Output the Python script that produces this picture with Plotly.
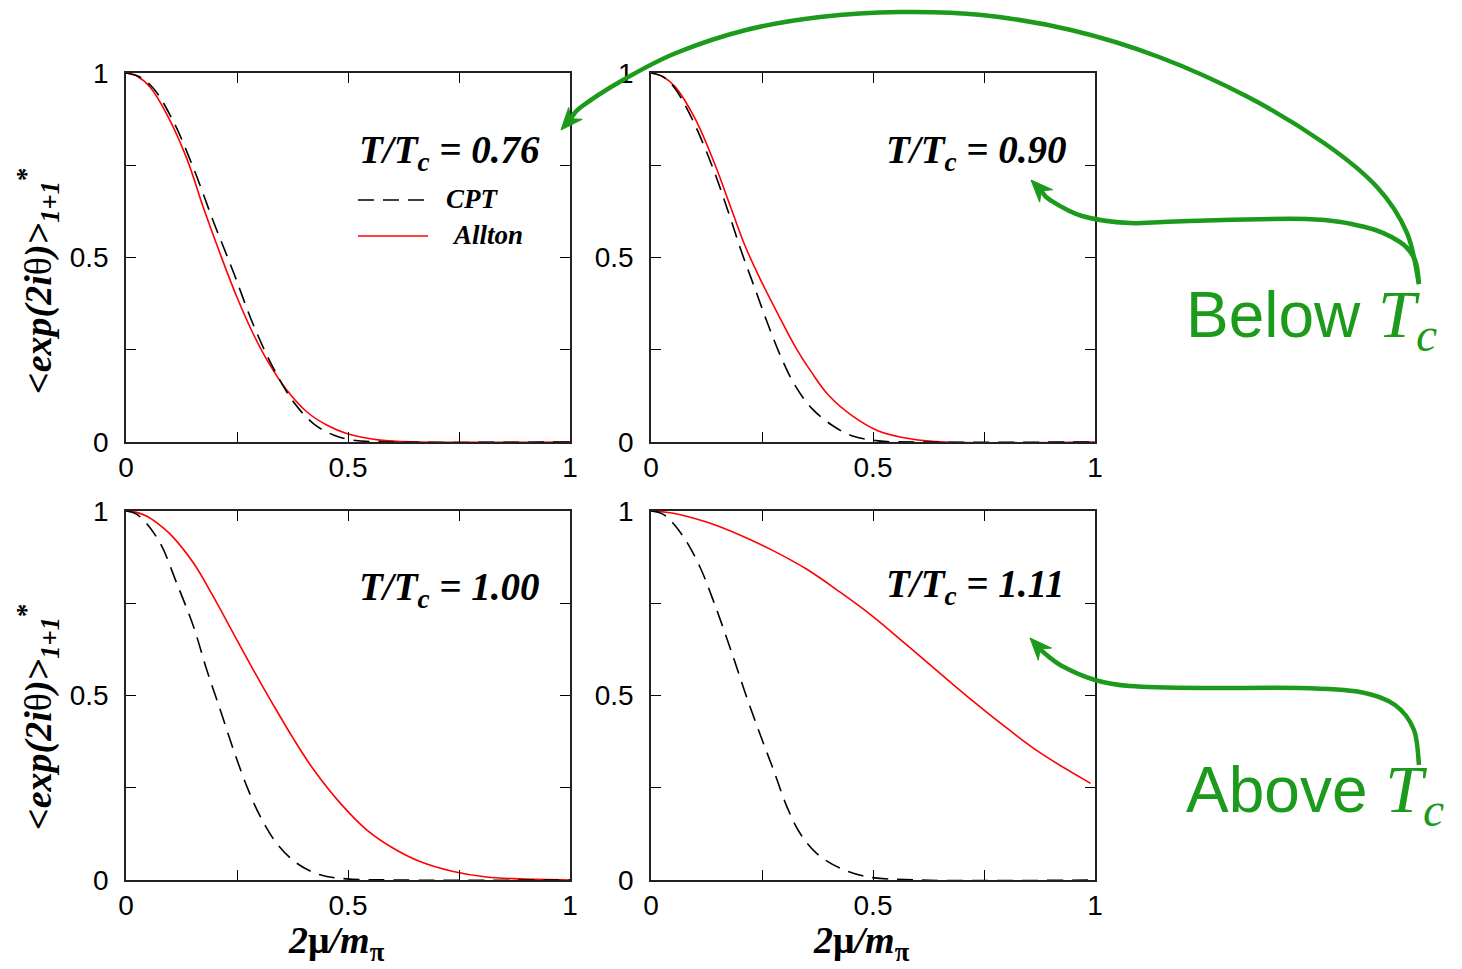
import plotly.graph_objects as go

W, H = 1462, 969

# ---------------- data ----------------
mu_tl_cpt = [0, 0.03, 0.062, 0.107, 0.152, 0.197, 0.242, 0.287, 0.332, 0.377, 0.422, 0.467, 0.512, 0.6, 1.0]
val_tl_cpt = [1, 0.99, 0.958, 0.868, 0.742, 0.597, 0.46, 0.317, 0.2, 0.109, 0.05, 0.019, 0.005, 0.0, 0.0]
mu_tl_allton = [0, 0.027, 0.054, 0.092, 0.137, 0.174, 0.212, 0.249, 0.287, 0.324, 0.362, 0.407, 0.452, 0.497, 0.572, 0.66, 1.0]
val_tl_allton = [1, 0.99, 0.962, 0.888, 0.768, 0.636, 0.51, 0.395, 0.292, 0.209, 0.141, 0.082, 0.046, 0.023, 0.005, 0.0, 0.0]

mu_tr_cpt = [0, 0.027, 0.054, 0.092, 0.137, 0.174, 0.204, 0.234, 0.264, 0.294, 0.324, 0.362, 0.407, 0.452, 0.512, 0.6, 1.0]
val_tr_cpt = [1, 0.99, 0.958, 0.877, 0.75, 0.624, 0.515, 0.416, 0.317, 0.227, 0.154, 0.091, 0.046, 0.017, 0.003, 0.0, 0.0]
mu_tr_allton = [0, 0.027, 0.054, 0.099, 0.144, 0.182, 0.212, 0.249, 0.287, 0.324, 0.362, 0.399, 0.452, 0.512, 0.587, 0.662, 1.0]
val_tr_allton = [1, 0.99, 0.963, 0.877, 0.752, 0.628, 0.531, 0.434, 0.344, 0.26, 0.188, 0.128, 0.072, 0.03, 0.008, 0.0, 0.0]

mu_bl_cpt = [0, 0.02, 0.039, 0.077, 0.114, 0.152, 0.182, 0.212, 0.242, 0.272, 0.302, 0.339, 0.384, 0.437, 0.497, 0.6, 1.0]
val_bl_cpt = [1, 0.994, 0.976, 0.913, 0.805, 0.687, 0.569, 0.462, 0.353, 0.254, 0.173, 0.1, 0.046, 0.014, 0.003, 0.0, 0.0]
mu_bl_allton = [0, 0.022, 0.047, 0.072, 0.099, 0.152, 0.197, 0.242, 0.287, 0.332, 0.377, 0.422, 0.482, 0.542, 0.602, 0.662, 0.737, 0.812, 0.887, 1.0]
val_bl_allton = [1, 0.997, 0.986, 0.966, 0.938, 0.859, 0.767, 0.668, 0.569, 0.474, 0.383, 0.3, 0.209, 0.136, 0.086, 0.05, 0.023, 0.008, 0.003, 0.0]

mu_br_cpt = [0, 0.018, 0.035, 0.073, 0.11, 0.148, 0.185, 0.215, 0.245, 0.276, 0.306, 0.336, 0.373, 0.426, 0.486, 0.6, 1.0]
val_br_cpt = [1, 0.996, 0.985, 0.93, 0.849, 0.732, 0.605, 0.497, 0.397, 0.298, 0.199, 0.126, 0.072, 0.032, 0.009, 0.0, 0.0]
mu_br_allton = [0, 0.05, 0.125, 0.2, 0.276, 0.351, 0.426, 0.5, 0.576, 0.651, 0.726, 0.801, 0.876, 0.99]
val_br_allton = [1, 0.994, 0.97, 0.935, 0.892, 0.842, 0.78, 0.714, 0.637, 0.56, 0.484, 0.412, 0.345, 0.262]

panel_labels = ["0.76", "0.90", "1.00", "1.11"]
tick_vals = [0, 0.25, 0.5, 0.75, 1]
tick_text = ["0", "", "0.5", "", "1"]

panels = [
    (mu_tl_cpt, val_tl_cpt, mu_tl_allton, val_tl_allton),
    (mu_tr_cpt, val_tr_cpt, mu_tr_allton, val_tr_allton),
    (mu_bl_cpt, val_bl_cpt, mu_bl_allton, val_bl_allton),
    (mu_br_cpt, val_br_cpt, mu_br_allton, val_br_allton),
]

# ---------------- helpers ----------------
def px(x):
    return x / W

def py(y):
    return 1 - y / H

SERIF = "Liberation Serif"
SANS = "Liberation Sans"
GREEN = "#1c9a1c"
DASH = "16px,9px"

# panel pixel boxes: (left, right, top, bottom)
boxes = [(126, 570, 73, 442), (651, 1095, 73, 442), (126, 570, 511, 880), (651, 1095, 511, 880)]

fig = go.Figure()
layout = dict(
    width=W, height=H, margin=dict(l=0, r=0, t=0, b=0, autoexpand=False),
    paper_bgcolor="white", plot_bgcolor="white", showlegend=False, template="none",
)

for i, (mc, vc, ma, va) in enumerate(panels):
    k = "" if i == 0 else str(i + 1)
    fig.add_trace(go.Scatter(x=ma, y=va, mode="lines", xaxis="x" + k, yaxis="y" + k,
                             line=dict(color="#ff0000", width=1.6, shape="spline", smoothing=1.0),
                             name="Allton"))
    fig.add_trace(go.Scatter(x=mc, y=vc, mode="lines", xaxis="x" + k, yaxis="y" + k,
                             line=dict(color="black", width=1.6, dash=DASH, shape="spline", smoothing=1.0),
                             name="CPT"))
    l, r, t, b = boxes[i]
    axcommon = dict(range=[0, 1], tickvals=tick_vals, ticktext=tick_text, ticks="inside",
                    ticklen=10, tickwidth=1.3, tickcolor="black", showline=True, linecolor="#222",
                    linewidth=1.6, mirror="ticks", showgrid=False, zeroline=False, automargin=False,
                    tickfont=dict(family=SANS, size=28, color="black"))
    layout["xaxis" + k] = dict(domain=[px(l), px(r)], anchor="y" + k, **axcommon)
    layout["yaxis" + k] = dict(domain=[py(b), py(t)], anchor="x" + k, ticklabelstandoff=10, **axcommon)

fig.update_layout(**layout)

annotations = []
# panel labels
label_pos = [(357, 152), (884, 152), (357, 589), (884, 586)]
for (lx, ly), lab in zip(label_pos, panel_labels):
    annotations.append(dict(xref="paper", yref="paper", x=px(lx), y=py(ly), xanchor="left", yanchor="middle",
                            text="<b><i>T/T<sub>c</sub> = " + lab + "</i></b>", showarrow=False,
                            font=dict(family=SERIF, size=39, color="black")))

# legend text
annotations.append(dict(xref="paper", yref="paper", x=px(444), y=py(199), xanchor="left", yanchor="middle",
                        text="<b><i>CPT</i></b>", showarrow=False, font=dict(family=SERIF, size=27, color="black")))
annotations.append(dict(xref="paper", yref="paper", x=px(450), y=py(235), xanchor="left", yanchor="middle",
                        text="<b><i>Allton</i></b>", showarrow=False, font=dict(family=SERIF, size=27, color="black")))

# y titles
ytitle = "<b><i>&lt;exp(2i</i></b>θ<b><i>)&gt;</i><sub><i>1+1</i></sub><sup>*</sup></b>"
for cy in (281, 717):
    annotations.append(dict(xref="paper", yref="paper", x=px(38), y=py(cy), xanchor="center", yanchor="middle",
                            text=ytitle, textangle=-90, showarrow=False,
                            font=dict(family=SERIF, size=38, color="black")))
# x titles
xtitle = "<b><i>2</i>μ<i>/m</i><sub>π</sub></b>"
for cx in (336, 861):
    annotations.append(dict(xref="paper", yref="paper", x=px(cx), y=py(943), xanchor="center", yanchor="middle",
                            text=xtitle, showarrow=False, font=dict(family=SERIF, size=38, color="black")))

# green labels
for ty, word in ((318, "Below"), (793, "Above")):
    annotations.append(dict(xref="paper", yref="paper", x=px(1184), y=py(ty), xanchor="left", yanchor="middle",
                            text=word + " <span style=\"font-family:'Liberation Serif'; font-size:68px\"><i>T<sub>c</sub></i></span>",
                            showarrow=False, font=dict(family=SANS, size=64, color=GREEN)))

fig.update_layout(annotations=annotations)

shapes = []
# legend samples (top-left panel)
shapes.append(dict(type="line", xref="paper", yref="paper", x0=px(358), x1=px(428), y0=py(200), y1=py(200),
                   line=dict(color="black", width=1.6, dash=DASH)))
shapes.append(dict(type="line", xref="paper", yref="paper", x0=px(358), x1=px(428), y0=py(236), y1=py(236),
                   line=dict(color="#ff0000", width=1.6)))


def smooth_path(pts):
    # Catmull-Rom -> cubic Bezier, in paper coordinates
    p = pts
    s = "M %.5f,%.5f" % (px(p[0][0]), py(p[0][1]))
    for j in range(len(p) - 1):
        p0 = p[j - 1] if j > 0 else p[j]
        p1 = p[j]
        p2 = p[j + 1]
        p3 = p[j + 2] if j + 2 < len(p) else p[j + 1]
        c1 = (p1[0] + (p2[0] - p0[0]) / 6, p1[1] + (p2[1] - p0[1]) / 6)
        c2 = (p2[0] - (p3[0] - p1[0]) / 6, p2[1] - (p3[1] - p1[1]) / 6)
        s += " C %.5f,%.5f %.5f,%.5f %.5f,%.5f" % (px(c1[0]), py(c1[1]), px(c2[0]), py(c2[1]), px(p2[0]), py(p2[1]))
    return s


def head_path(tip, prev, L=22, w=9):
    dx, dy = tip[0] - prev[0], tip[1] - prev[1]
    n = (dx * dx + dy * dy) ** 0.5
    dx, dy = dx / n, dy / n
    nx, ny = -dy, dx
    bx, by = tip[0] - L * dx, tip[1] - L * dy
    a = (bx + w * nx, by + w * ny)
    c = (bx - w * nx, by - w * ny)
    m = (tip[0] - 0.68 * L * dx, tip[1] - 0.68 * L * dy)
    pts = [tip, a, m, c]
    return "M " + " L ".join("%.5f,%.5f" % (px(x), py(y)) for x, y in pts) + " Z"


arrows = [
    [(1419, 284), (1407, 233), (1377, 187), (1324, 143), (1248, 97), (1159, 57), (1071, 30), (982, 15),
     (900, 12), (820, 17), (746, 30), (676, 53), (623, 80), (581, 107), (561, 130)],
    [(1419, 284), (1415, 260), (1400, 242), (1365, 227), (1306, 219), (1189, 221), (1130, 223), (1082, 216),
     (1050, 200), (1031, 180)],
    [(1419, 765), (1414, 730), (1395, 705), (1360, 692), (1300, 688), (1200, 688), (1130, 686), (1095, 680),
     (1062, 666), (1042, 651), (1030, 638)],
]
for pts in arrows:
    tip = pts[-1]
    prev = pts[-2]
    body = pts[:-1] + [((tip[0] + prev[0]) / 2, (tip[1] + prev[1]) / 2)]
    shapes.append(dict(type="path", xref="paper", yref="paper", path=smooth_path(body),
                       line=dict(color=GREEN, width=4.5)))
    shapes.append(dict(type="path", xref="paper", yref="paper", path=head_path(tip, prev),
                       fillcolor=GREEN, line=dict(color=GREEN, width=1)))

fig.update_layout(shapes=shapes)
fig.write_html("out.html")
